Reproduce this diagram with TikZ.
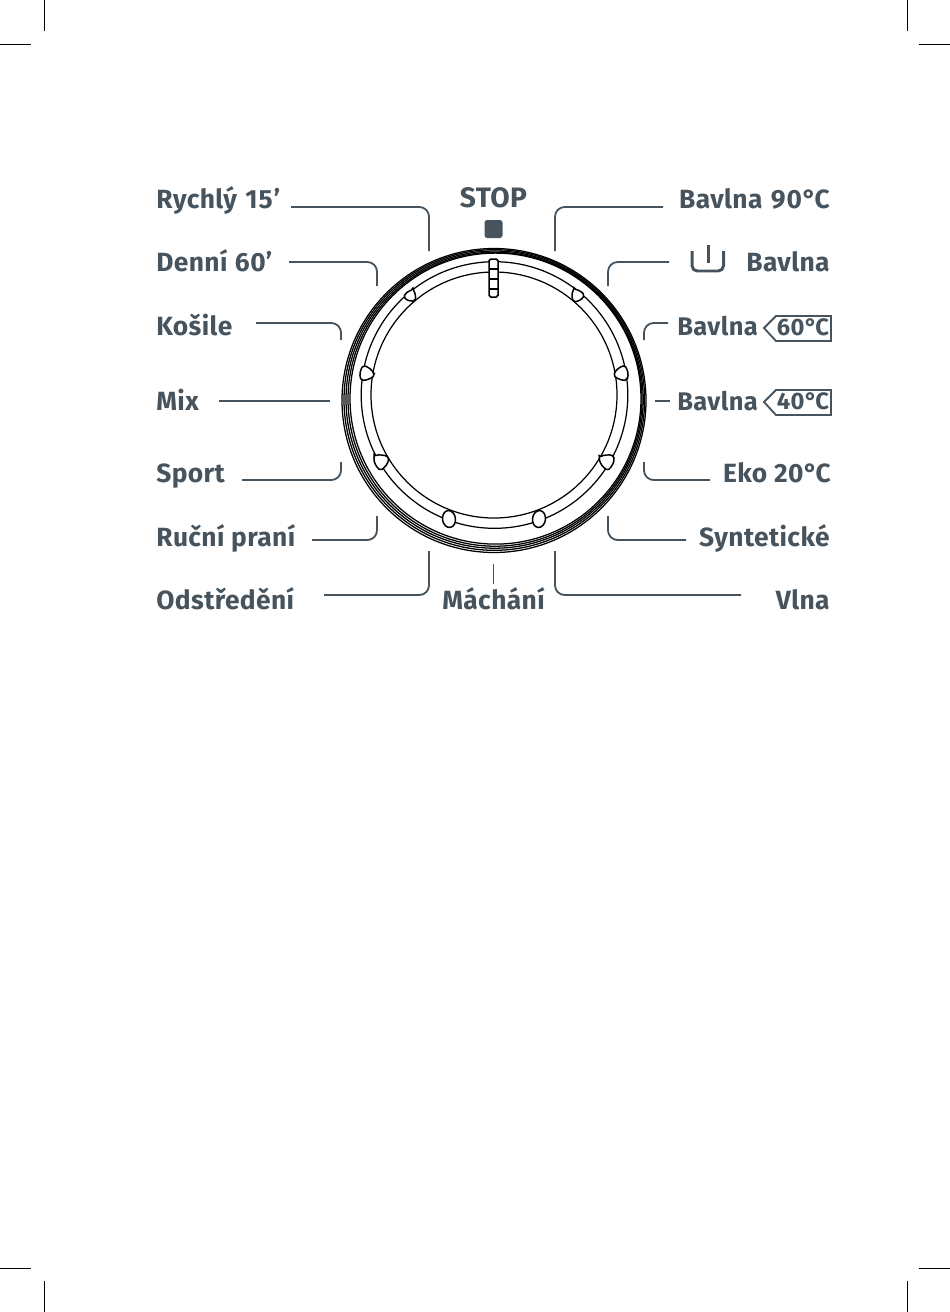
\documentclass[tikz,border=0pt]{standalone}
\usepackage{fontspec}
\setmainfont{Fira Sans}[LetterSpace=1.5]
\usetikzlibrary{positioning}
\definecolor{slate}{HTML}{47545E}
\tikzset{
  leader/.style={draw=slate, line width=1.05pt, rounded corners=5.5pt},
  lab/.style={inner sep=0pt, text=slate, font=\fontsize{15}{18}\selectfont\bfseries},
  lab small/.style={lab, font=\fontsize{14.5}{18}\selectfont\bfseries},
  tagtext/.style={inner sep=0pt, text=slate, font=\fontsize{13.5}{15}\selectfont\bfseries},
  rim/.style={draw=black, line width=0.72pt},
  ring/.style={draw=black, line width=0.7pt},
  knob/.style={draw=black, fill=white, line width=0.85pt},
  crop/.style={draw=black, line width=0.3pt}
}
\begin{document}
\begin{tikzpicture}[x=0.02cm, y=-0.02cm]
        \useasboundingbox (0, 0) rectangle (950, 1312);

        % crop marks
        \draw[crop] (44, 0) -- (44, 31) (0, 44) -- (31, 44)
                    (907, 0) -- (907, 31) (919, 44) -- (950, 44)
                    (44, 1281) -- (44, 1312) (0, 1268) -- (31, 1268)
                    (907, 1281) -- (907, 1312) (919, 1268) -- (950, 1268);

        % dial
        \node[circle, rim, minimum size=304*0.02cm, inner sep=0pt] (dial) at (494, 400.5) {};
        \draw[rim] (494.3, 400) circle (150.3);
        \draw[rim] (494.6, 399.6) circle (148.6);
        \draw[rim] (495, 399.2) circle (147);
        \draw[rim] (495.5, 398.6) circle (145.5);
        \draw[ring] (494.5, 395) circle (133.3);
        \draw[ring] (494, 395) circle (123);

        % knobs
        \foreach \kx/\ky/\ka/\ks in {410/296/-80/0.8, 577/296/-30/0.85, 366/373/200/1, 622/373/160/1, 381/462/-5/1.05, 607/462/5/1.05}
            \draw[knob, shift={(\kx, \ky)}, rotate=\ka, scale=\ks, rounded corners=1pt]
                (-7, -5) .. controls (-3, -7) and (3, -7) .. (7, -5)
                .. controls (7, 1) and (4, 5) .. (0, 8)
                .. controls (-4, 5) and (-7, 1) .. (-7, -5) -- cycle;
        \draw[knob] (449, 519) ellipse [x radius=6.5, y radius=8.5, rotate=8];
        \draw[knob] (539, 519) ellipse [x radius=6.5, y radius=8.5, rotate=-8];

        % stop pointer
        \draw[knob, rounded corners=1pt] (489, 259) rectangle (498, 297);
        \draw[ring] (489, 269) -- (498, 269) (489, 279) -- (498, 279) (489, 289) -- (498, 289);

        % labels
        \node[lab, anchor=base west] (rychly) at (156, 208) {Rychlý\kern1pt{} 1\kern0.6pt5\kern0.6pt’};
        \node[lab, anchor=base west] (denni) at (156, 271.5) {Denní\kern0.5pt{} 60’};
        \node[lab, anchor=base west] (kosile) at (156, 335) {Košile};
        \node[lab, anchor=base west] (mix) at (156, 410.5) {Mix};
        \node[lab, anchor=base west] (sport) at (156, 482) {Sport};
        \node[lab, anchor=base west] (rucni) at (156, 546) {Ruční praní};
        \node[lab, anchor=base west] (odstred) at (156, 609) {Odstředění};
        \node[lab, anchor=base] (machani) at (493.5, 609) {Máchání};
        \node[lab, font=\fontsize{16}{18}\selectfont\bfseries, anchor=base] (stop) at (493.5, 207.5) {STOP};
        \node[lab, anchor=base east] (b90) at (830, 208) {Bavlna\kern1pt{} 9\kern0.6pt0°\kern-1ptC};
        \node[lab, anchor=base east] (bav) at (830, 271.5) {Bavlna};
        \node[lab small, anchor=base west] (b60) at (677, 335) {Bavlna};
        \node[lab small, anchor=base west] (b40) at (677, 410.5) {Bavlna};
        \node[lab, anchor=base east] (eko) at (831, 482) {Eko 20°\kern-1.2ptC};
        \node[lab, anchor=base east] (syn) at (830, 546) {Syntetické};
        \node[lab, anchor=base east] (vlna) at (830, 609) {Vlna};

        % stop square and tub icon
        \node[fill=slate, rounded corners=1.5pt, minimum size=18*0.02cm, inner sep=0pt] (stopsq) at (493.5, 229) {};
        \draw[leader, line width=1.7pt, rounded corners=3pt] (692, 251) |- (723.5, 271) -- (723.5, 251);
        \draw[leader, line width=1.7pt] (708, 245) -- (708, 263);

        % temperature tags
        \foreach \ty/\tt/\tn in {328/60/t60, 402/40/t40} {
            \draw[draw=slate, line width=1.05pt] (764, \ty) -- (776, \ty-12) -- (831, \ty-12)
                -- (831, \ty+13) -- (776, \ty+13) -- cycle;
            \node[tagtext, anchor=base] (\tn) at (803, \ty+7) {\tt°\kern-1ptC};
        }

        % leader ends
        \coordinate (rychly s) at (291, 207);  \coordinate (rychly e) at (429, 251);
        \coordinate (denni s) at (289, 262);   \coordinate (denni e) at (377, 286);
        \coordinate (kosile s) at (256, 323);  \coordinate (kosile e) at (341, 340);
        \coordinate (mix s) at (219, 401);     \coordinate (mix e) at (330, 401);
        \coordinate (sport s) at (242, 480);   \coordinate (sport e) at (341, 462);
        \coordinate (rucni s) at (312, 540);   \coordinate (rucni e) at (377, 516);
        \coordinate (odstred s) at (324, 595); \coordinate (odstred e) at (429, 551);
        \coordinate (machani s) at (493.5, 584); \coordinate (machani e) at (493.5, 564);
        \coordinate (b90 s) at (663, 207);     \coordinate (b90 e) at (555, 251);
        \coordinate (bav s) at (669, 262);     \coordinate (bav e) at (608, 286);
        \coordinate (b60 s) at (668, 323);     \coordinate (b60 e) at (644, 340);
        \coordinate (b40 s) at (670, 401);     \coordinate (b40 e) at (655, 401);
        \coordinate (eko s) at (710, 480);     \coordinate (eko e) at (644, 462);
        \coordinate (syn s) at (686, 540);     \coordinate (syn e) at (608, 516);
        \coordinate (vlna s) at (741, 595);    \coordinate (vlna e) at (555, 551);

        \foreach \lname in {rychly, denni, kosile, sport, rucni, odstred, b90, bav, b60, eko, syn, vlna}
            \draw[leader] (\lname\space s) -| (\lname\space e);
        \foreach \lname in {mix, machani, b40}
            \draw[leader] (\lname\space s) -- (\lname\space e);
    \end{tikzpicture}
\end{document}
